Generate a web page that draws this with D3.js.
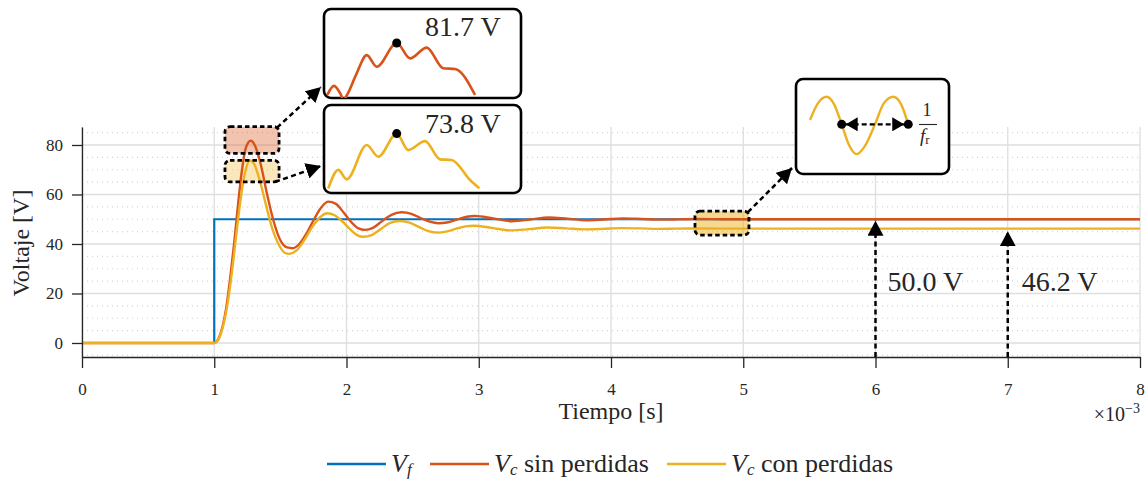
<!DOCTYPE html>
<html>
<head>
<meta charset="utf-8">
<script src="https://cdn.jsdelivr.net/npm/d3@7"></script>
<style>
body{margin:0;background:#fff;}
svg text{font-family:"Liberation Serif","DejaVu Serif",serif !important;fill:#262626;}
</style>
</head>
<body>
<div id="chart"></div>
<script>
// ---- data (tiempo in ms, voltaje in V) ----
var xTicks=[0,1,2,3,4,5,6,7,8];
var yTicks=[0,20,40,60,80];
var yMinor=[-5,5,10,15,25,30,35,45,50,55,65,70,75,85];

// fuente (escalon)
var tF=[0,1,1,8];
var vF=[0,0,50,50];

// Vc sin perdidas
var tSin=[0,1.0,1.03,1.06,1.09,1.12,1.15,1.18,1.21,1.24,1.276,1.31,1.35,1.40,1.45,1.50,1.55,1.593,1.64,1.70,1.76,1.81,1.862,1.92,1.98,2.04,2.09,2.14,2.20,2.27,2.34,2.417,2.49,2.56,2.63,2.694,2.76,2.84,2.91,2.97,3.11,3.25,3.39,3.53,3.67,3.81,3.95,4.09,4.23,4.37,4.51,4.65,4.85,5.2,8];
var vSin=[0,0,1.5,6,14,26,40,56,70,79,81.7,79.5,72.5,60,49,41.5,38.6,38.3,39.8,44.5,50.5,54.8,57.1,56.2,52.6,48.6,46.3,45.7,46.5,49.3,51.8,52.8,52.2,50.5,49.0,48.4,48.7,50.0,51.0,51.3,50.3,49.2,49.9,50.7,50.2,49.6,49.9,50.3,50.1,49.85,49.95,50.1,50.0,50.0,50.0];

// Vc con perdidas
var tCon=[0,1.0,1.03,1.06,1.09,1.12,1.15,1.18,1.21,1.24,1.27,1.30,1.34,1.39,1.44,1.49,1.53,1.567,1.62,1.68,1.74,1.80,1.855,1.91,1.97,2.03,2.08,2.127,2.19,2.26,2.33,2.40,2.47,2.55,2.62,2.69,2.76,2.83,2.90,2.96,3.10,3.24,3.38,3.52,3.66,3.80,3.94,4.08,4.22,4.36,4.5,4.65,4.9,8];
var vCon=[0,0,1.3,5.5,12.5,23,36,50,62,70.5,73.8,72.5,66.5,56,46,39.5,36.6,36.0,37.3,41.5,46.8,50.8,52.4,51.6,49,45.8,43.6,42.9,43.6,46.1,48.5,49.3,48.7,46.8,45.2,44.6,45.1,46.2,47.1,47.4,46.5,45.5,46.0,46.65,46.3,45.9,46.1,46.4,46.3,46.1,46.2,46.25,46.2,46.2];

// zoom del pico (con rizado)
var tZoomSin=[1.2034,1.2102,1.217,1.2199,1.2235,1.2327,1.2436,1.2538,1.2742,1.2878,1.3048,1.3217,1.3337,1.3541];
var vZoomSin=[79.34,79.75,79.37,79.11,79.34,80.25,81.15,80.62,81.7,81.0,81.49,80.55,80.52,79.34];
var tZoomCon=[1.2044,1.2146,1.2232,1.2436,1.2554,1.2742,1.286,1.3031,1.3184,1.3303,1.349,1.3585];
var vZoomCon=[71.31,72.15,71.72,73.28,72.75,73.8,73.05,73.46,72.63,72.6,71.69,71.31];
var tPeak=1.2742, peakSin=81.7, peakCon=73.8;
var finSin=50.0, finCon=46.2;

// rizado (us, V)
var tRip=[2.62,4.23,5.98,7.45,9.0,10.47,12.02,13.69,15.7,17.5,19.39,20.94,22.4];
var vRip=[0.136,0.67,0.87,0.64,0,-0.65,-0.94,-0.68,0,0.67,0.87,0.64,0];

var colF="#0072BD", colSin="#D95319", colCon="#EDB120";
var serif="Liberation Serif";

var W=1148,H=480;
var svg=d3.select("#chart").append("svg").attr("width",W).attr("height",H)
  .attr("font-family",serif);

var x=d3.scaleLinear().domain([0,8]).range([82,1140]);
var y=d3.scaleLinear().domain([-5.66,87.27]).range([357,127]);

var defs=svg.append("defs");
function marker(id,len,half){
  defs.append("marker").attr("id",id)
    .attr("viewBox","0 0 "+len+" "+(2*half))
    .attr("refX",len).attr("refY",half)
    .attr("markerWidth",len).attr("markerHeight",2*half)
    .attr("markerUnits","userSpaceOnUse")
    .attr("orient","auto-start-reverse")
    .append("path").attr("d","M0,0L"+len+","+half+"L0,"+(2*half)+"Z").attr("fill","#000");
}
marker("ah",15,8);
marker("ahs",12,7);

// grid
var grid=svg.append("g");
grid.selectAll(".ym").data(yMinor).enter().append("line")
  .attr("x1",x(0)).attr("x2",x(8)).attr("y1",d=>y(d)).attr("y2",d=>y(d))
  .attr("stroke","#d4d4d4").attr("stroke-width",1.2).attr("stroke-dasharray","1,4");
grid.selectAll(".yg").data(yTicks).enter().append("line")
  .attr("x1",x(0)).attr("x2",x(8)).attr("y1",d=>y(d)).attr("y2",d=>y(d))
  .attr("stroke","#dedede").attr("stroke-width",1.3);
grid.selectAll(".xg").data(xTicks).enter().append("line")
  .attr("x1",d=>x(d)).attr("x2",d=>x(d)).attr("y1",y.range()[0]).attr("y2",y.range()[1])
  .attr("stroke","#dedede").attr("stroke-width",1.3);

// shaded zoom boxes (fill)
var boxes=[
  {t0:1.081,t1:1.49,v0:76.6,v1:87.4,c:colSin,o:0.35},
  {t0:1.081,t1:1.49,v0:65.1,v1:73.8,c:colCon,o:0.3},
  {t0:4.635,t1:5.043,v0:43.6,v1:53.3,c:colCon,o:0.5}
];
svg.selectAll(".bf").data(boxes).enter().append("rect")
  .attr("x",d=>x(d.t0)).attr("y",d=>y(d.v1))
  .attr("width",d=>x(d.t1)-x(d.t0)).attr("height",d=>y(d.v0)-y(d.v1))
  .attr("rx",5).attr("fill",d=>d.c).attr("fill-opacity",d=>d.o);

// curves
function mkLine(xs,ys,curve){
  return d3.line().x(d=>xs(d[0])).y(d=>ys(d[1])).curve(curve);
}
var line=mkLine(x,y,d3.curveMonotoneX);
var lineLin=mkLine(x,y,d3.curveLinear);
svg.append("path").attr("d",lineLin(d3.zip(tF,vF))).attr("fill","none").attr("stroke",colF).attr("stroke-width",2.2);
svg.append("path").attr("d",line(d3.zip(tSin,vSin))).attr("fill","none").attr("stroke",colSin).attr("stroke-width",2.4);
svg.append("path").attr("d",line(d3.zip(tCon,vCon))).attr("fill","none").attr("stroke",colCon).attr("stroke-width",2.4);

// box borders
svg.selectAll(".bb").data(boxes).enter().append("rect")
  .attr("x",d=>x(d.t0)).attr("y",d=>y(d.v1))
  .attr("width",d=>x(d.t1)-x(d.t0)).attr("height",d=>y(d.v0)-y(d.v1))
  .attr("rx",5).attr("fill","none").attr("stroke","#000").attr("stroke-width",2.8).attr("stroke-dasharray","4.5,3");

// axes
var ax=svg.append("g").attr("transform","translate(0,357)")
  .call(d3.axisBottom(x).tickValues(xTicks).tickSize(11).tickSizeOuter(0).tickPadding(15).tickFormat(d3.format("d")));
var ay=svg.append("g").attr("transform","translate(82,0)")
  .call(d3.axisLeft(y).tickValues(yTicks).tickSize(10).tickSizeOuter(0).tickPadding(9).tickFormat(d3.format("d")));
[ax,ay].forEach(function(g){
  g.attr("font-family",serif).attr("font-size",17);
  g.select(".domain").attr("stroke","#262626").attr("stroke-width",1.3);
  g.selectAll(".tick line").attr("stroke","#262626").attr("stroke-width",1.3);
  g.selectAll(".tick text").style("font-family",serif).attr("font-size",17).attr("fill","#262626");
});

svg.append("text").attr("x",611).attr("y",419).attr("text-anchor","middle").attr("font-size",24).text("Tiempo [s]");
svg.append("text").attr("transform","translate(29,243) rotate(-90)").attr("text-anchor","middle").attr("font-size",24).text("Voltaje [V]");
var ex=svg.append("text").attr("x",1140).attr("y",421).attr("text-anchor","end").attr("font-size",20);
ex.append("tspan").text("\u00d710");
ex.append("tspan").attr("font-size",14).attr("dy",-8).text("\u22123");

// insets
function inset(bx,by,bw,bh,id){
  svg.append("clipPath").attr("id",id).append("rect").attr("x",bx).attr("y",by).attr("width",bw).attr("height",bh);
  svg.append("rect").attr("x",bx).attr("y",by).attr("width",bw).attr("height",bh).attr("rx",7)
    .attr("fill","#fff").attr("stroke","#000").attr("stroke-width",2.6);
}
var fmt=d3.format(".1f");

// inset 1: sin perdidas
inset(324,9,197,89,"c1");
var ix1=d3.scaleLinear().domain([1.20,1.40]).range([324,520]);
var iy1=d3.scaleLinear().domain([79.2,83.2]).range([98,10]);
svg.append("path").attr("clip-path","url(#c1)").attr("d",mkLine(ix1,iy1,d3.curveMonotoneX)(d3.zip(tZoomSin,vZoomSin)))
  .attr("fill","none").attr("stroke",colSin).attr("stroke-width",2.6);
svg.append("circle").attr("cx",ix1(tPeak)).attr("cy",iy1(peakSin)).attr("r",4.5).attr("fill","#000");
svg.append("text").attr("x",425).attr("y",36).attr("font-size",28).text(fmt(peakSin)+" V");

// inset 2: con perdidas
inset(324,105,197,88,"c2");
var iy2=d3.scaleLinear().domain([71.1,75.1]).range([193,105]);
svg.append("path").attr("clip-path","url(#c2)").attr("d",mkLine(ix1,iy2,d3.curveMonotoneX)(d3.zip(tZoomCon,vZoomCon)))
  .attr("fill","none").attr("stroke",colCon).attr("stroke-width",2.6);
svg.append("circle").attr("cx",ix1(tPeak)).attr("cy",iy2(peakCon)).attr("r",4.5).attr("fill","#000");
svg.append("text").attr("x",425).attr("y",133).attr("font-size",28).text(fmt(peakCon)+" V");

// inset 3: rizado
inset(796,79,153,95,"c3");
var ix3=d3.scaleLinear().domain([0,30]).range([797,946]);
var iy3=d3.scaleLinear().domain([-1.6,1.4]).range([175,80]);
svg.append("path").attr("clip-path","url(#c3)").attr("d",mkLine(ix3,iy3,d3.curveMonotoneX)(d3.zip(tRip,vRip)))
  .attr("fill","none").attr("stroke",colCon).attr("stroke-width",2.4);
var ra=tRip[4], rb=tRip[tRip.length-1];
svg.append("line").attr("x1",ix3(ra)+4).attr("x2",ix3(rb)-4).attr("y1",iy3(0)).attr("y2",iy3(0))
  .attr("stroke","#000").attr("stroke-width",2.2).attr("stroke-dasharray","5,3")
  .attr("marker-start","url(#ahs)").attr("marker-end","url(#ahs)");
svg.selectAll(".rd").data([ra,rb]).enter().append("circle")
  .attr("cx",d=>ix3(d)).attr("cy",iy3(0)).attr("r",4.5).attr("fill","#000");
svg.append("text").attr("x",927).attr("y",116).attr("text-anchor","middle").attr("font-size",18).text("1");
svg.append("line").attr("x1",919).attr("x2",937).attr("y1",124.5).attr("y2",124.5).attr("stroke","#262626").attr("stroke-width",1.1);
var fr=svg.append("text").attr("x",920).attr("y",142).attr("font-size",19);
fr.append("tspan").attr("font-style","italic").text("f");
fr.append("tspan").attr("font-size",13).attr("dy",2).text("r");

// arrows from boxes to insets
function arrow(x1,y1,x2,y2){
  svg.append("line").attr("x1",x1).attr("y1",y1).attr("x2",x2).attr("y2",y2)
    .attr("stroke","#000").attr("stroke-width",2.5).attr("stroke-dasharray","5,3.5")
    .attr("marker-end","url(#ah)");
}
arrow(x(boxes[0].t1)-2,y(boxes[0].v1)+1,321,87);
arrow(x(boxes[1].t1)-4,y(boxes[1].v0),321,166);
arrow(x(boxes[2].t1)-1,y(boxes[2].v1)+1,792,168);

// final values
arrow(x(6),357,x(6),y(finSin)+1.5);
arrow(x(7),357,x(7),y(finCon)+2.5);
svg.append("text").attr("x",x(6)+12).attr("y",291).attr("font-size",28).text(fmt(finSin)+" V");
svg.append("text").attr("x",x(7)+14).attr("y",291).attr("font-size",28).text(fmt(finCon)+" V");

// legend
var leg=[
  {c:colF,x:327,sub:"f",rest:""},
  {c:colSin,x:430,sub:"c",rest:" sin perdidas"},
  {c:colCon,x:667,sub:"c",rest:" con perdidas"}
];
var lg=svg.append("g");
leg.forEach(function(d){
  lg.append("line").attr("x1",d.x).attr("x2",d.x+59).attr("y1",464).attr("y2",464).attr("stroke",d.c).attr("stroke-width",2.4);
  var t=lg.append("text").attr("x",d.x+64).attr("y",472).attr("font-size",26);
  t.append("tspan").attr("font-style","italic").text("V");
  t.append("tspan").attr("font-style","italic").attr("font-size",17).attr("dy",3).text(d.sub);
  if(d.rest) t.append("tspan").attr("dy",-3).text(d.rest);
});
</script>
</body>
</html>
